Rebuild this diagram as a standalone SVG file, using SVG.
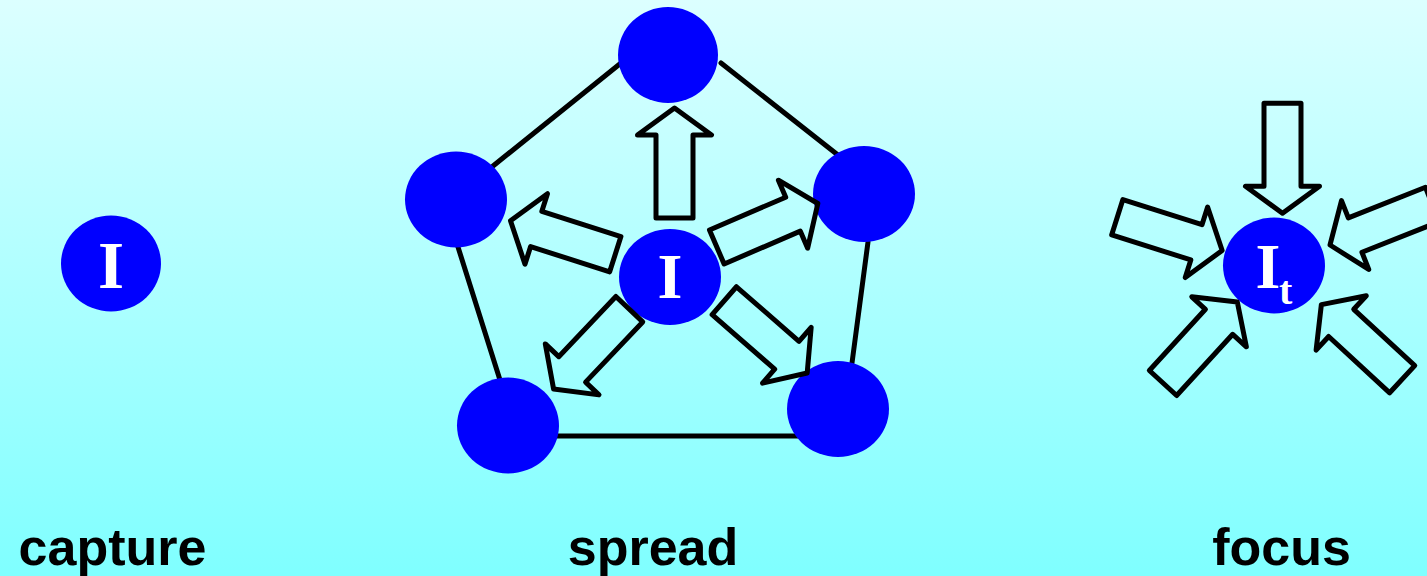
<svg xmlns="http://www.w3.org/2000/svg" width="1427" height="576" viewBox="0 0 1427 576">
<defs>
<linearGradient id="bg" x1="0" y1="0" x2="0" y2="1">
<stop offset="0" stop-color="#dcffff"/>
<stop offset="1" stop-color="#7fffff"/>
</linearGradient>
<polygon id="arr" points="0,-18.5 83,-18.5 83,-37 110,0 83,37 83,18.5 0,18.5"/>
</defs>
<style>
.node{fill:#0000ff}
.edge{stroke:#000;stroke-width:5;stroke-linecap:round;fill:none}
.arrow{fill:none;stroke:#000;stroke-width:5;stroke-linejoin:round}
.nt{font-family:"Liberation Serif","Times New Roman",serif;font-weight:bold;fill:#fff}
.lbl{font-family:"Liberation Sans",Arial,sans-serif;font-weight:bold;font-size:52px;fill:#000;text-anchor:middle}
</style>
<rect x="0" y="0" width="1427" height="576" fill="url(#bg)"/>

<g id="connectors">
<line class="edge" x1="493" y1="166" x2="621" y2="63"/>
<line class="edge" x1="721" y1="63" x2="843" y2="159"/>
<line class="edge" x1="868" y1="242" x2="852" y2="363"/>
<line class="edge" x1="458" y1="247" x2="500" y2="380"/>
<line class="edge" x1="555" y1="436" x2="798" y2="436"/>
</g>

<g id="node-capture">
<ellipse class="node" cx="111" cy="263.5" rx="50" ry="48"/>
<text class="nt" x="111" y="288" font-size="67" text-anchor="middle">I</text>
</g>

<g id="node-top"><ellipse class="node" cx="668" cy="55" rx="50" ry="48"/></g>
<g id="node-left"><ellipse class="node" cx="456" cy="199.5" rx="51" ry="48"/></g>
<g id="node-right"><ellipse class="node" cx="864" cy="194" rx="51" ry="48"/></g>
<g id="node-bottom-left"><ellipse class="node" cx="508" cy="425.5" rx="51" ry="48"/></g>
<g id="node-bottom-right"><ellipse class="node" cx="838" cy="409" rx="51" ry="48"/></g>
<g id="node-spread-center">
<ellipse class="node" cx="670" cy="277" rx="51" ry="48"/>
<text class="nt" x="670" y="298" font-size="64" text-anchor="middle">I</text>
</g>

<g id="spread-arrows" class="arrow">
<use href="#arr" transform="translate(674.5,218) rotate(-90)"/>
<use href="#arr" transform="translate(716.8,247) rotate(-23.3)"/>
<use href="#arr" transform="translate(615.3,254.2) rotate(197.7)"/>
<use href="#arr" transform="translate(629.3,309.2) rotate(133.5)"/>
<use href="#arr" transform="translate(724.3,300.7) rotate(41.1)"/>
</g>

<g id="node-focus">
<ellipse class="node" cx="1274" cy="265.5" rx="51" ry="48"/>
<text class="nt" x="1268" y="288" font-size="64" text-anchor="middle">I</text>
<text class="nt" x="1279" y="304" font-size="40">t</text>
</g>

<g id="focus-arrows" class="arrow">
<use href="#arr" transform="translate(1282.5,103.3) rotate(90)"/>
<use href="#arr" transform="translate(1117.3,217.2) rotate(17.6)"/>
<use href="#arr" transform="translate(1432.3,204.5) rotate(158.4)"/>
<use href="#arr" transform="translate(1163,383) rotate(-47.5)"/>
<use href="#arr" transform="translate(1402.2,379.2) rotate(-137.3)"/>
</g>

<g id="labels">
<text class="lbl" x="112.5" y="565">capture</text>
<text class="lbl" x="653" y="565">spread</text>
<text class="lbl" x="1281.5" y="565">focus</text>
</g>
</svg>
